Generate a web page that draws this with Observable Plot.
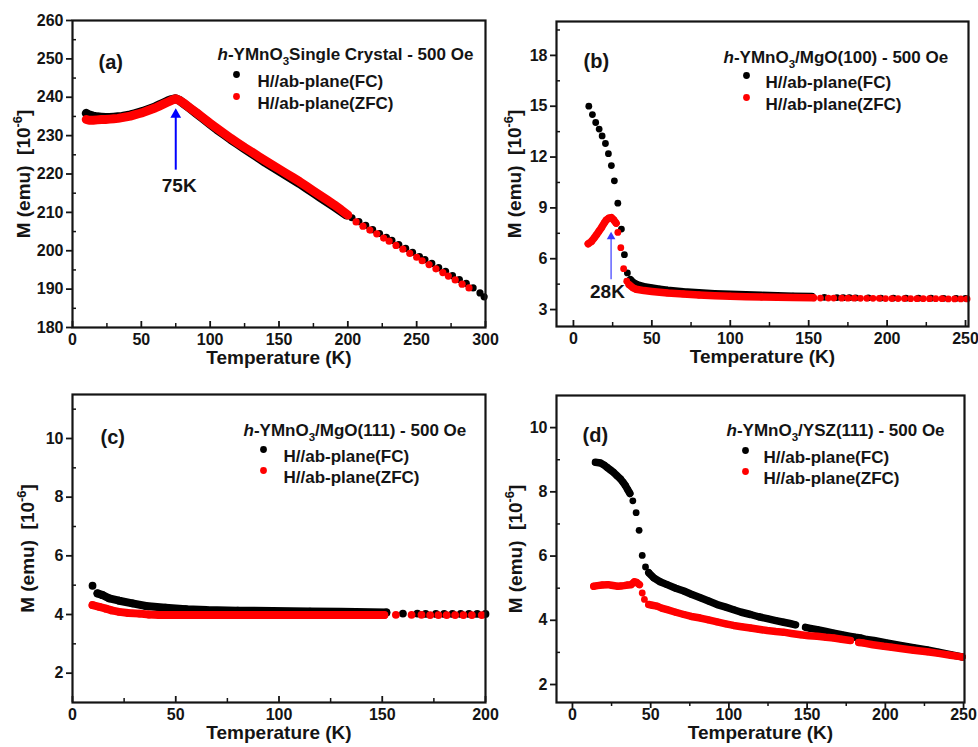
<!DOCTYPE html>
<html><head><meta charset="utf-8">
<script src="https://cdn.jsdelivr.net/npm/d3@7"></script>
<script src="https://cdn.jsdelivr.net/npm/@observablehq/plot@0.6"></script>
<style>
body{margin:0;background:#fff}
#chart{position:relative;width:978px;height:747px;overflow:hidden;background:#fff}
#chart svg{position:absolute}
</style></head><body><div id="chart"></div>
<script>
// ---------- tick labels ----------
const aXTicks=[0,50,100,150,200,250,300], aXMinor=[25,75,125,175,225,275];
const aYTicks=[180,190,200,210,220,230,240,250,260], aYMinor=[185,195,205,215,225,235,245,255];
const bXTicks=[0,50,100,150,200,250], bXMinor=[25,75,125,175,225];
const bYTicks=[3,6,9,12,15,18], bYMinor=[4.5,7.5,10.5,13.5,16.5,19.5];
const cXTicks=[0,50,100,150,200], cXMinor=[25,75,125,175];
const cYTicks=[2,4,6,8,10], cYMinor=[3,5,7,9,11];
const dXTicks=[0,50,100,150,200,250], dXMinor=[25,75,125,175,225];
const dYTicks=[2,4,6,8,10], dYMinor=[3,5,7,9];

// ---------- texts ----------
const legendLabels=["H//ab-plane(FC)","H//ab-plane(ZFC)"];
const panelLabels=["(a)","(b)","(c)","(d)"];
const panelTitles=["*h*-YMnO_3_Single Crystal - 500 Oe","*h*-YMnO_3_/MgO(100) - 500 Oe","*h*-YMnO_3_/MgO(111) - 500 Oe","*h*-YMnO_3_/YSZ(111) - 500 Oe"];
const xTitle="Temperature (K)";
const yTitle="M (emu)  [10^-6^]";

// ---------- (a) single crystal: [T (K), M (1e-6 emu)] ----------
const aFC_band=[[10,235.8],[12,235.4],[15,235.1],[18,234.9],[21,234.8],[24,234.7],[27,234.7],[30,234.8],[33,234.9],[36,235.0],[39,235.2],[42,235.4],[45,235.7],[48,236.0],[51,236.3],[54,236.7],[57,237.1],[60,237.5],[63,238.0],[66,238.5],[69,239.0],[72,239.4],[75,239.6],[78,239.1],[81,238.3],[85,237.2],[90,235.8],[95,234.4],[100,233.0],[105,231.6],[110,230.3],[115,229.0],[120,227.8],[125,226.6],[130,225.4],[135,224.2],[140,223.0],[145,221.9],[150,220.8],[155,219.7],[160,218.6],[165,217.5],[170,216.3],[175,215.1],[180,213.9],[185,212.7],[190,211.5],[195,210.3],[199,209.3]];
const aFC_pts=[[203,208.6],[208,207.6],[213,206.6],[218,205.5],[223,204.5],[228,203.5],[232,202.7],[237,201.6],[242,200.6],[247,199.6],[252,198.5],[256,197.7],[261,196.7],[266,195.6],[271,194.6],[276,193.5],[281,192.5],[286,191.5],[291,190.3],[296,189.0],[299,188.0]];
const aZFC_band=[[10,234.2],[12,234.0],[15,234.0],[18,234.1],[21,234.2],[24,234.2],[27,234.3],[30,234.4],[33,234.5],[36,234.7],[39,234.9],[42,235.1],[45,235.4],[48,235.7],[51,236.0],[54,236.4],[57,236.8],[60,237.2],[63,237.7],[66,238.2],[69,238.7],[72,239.2],[75,239.6],[78,239.1],[81,238.4],[85,237.3],[90,236.0],[95,234.6],[100,233.2],[105,231.9],[110,230.6],[115,229.3],[120,228.1],[125,226.9],[130,225.8],[135,224.6],[140,223.5],[145,222.4],[150,221.3],[155,220.2],[160,219.1],[165,218.0],[170,216.8],[175,215.6],[180,214.4],[185,213.2],[190,212.0],[195,210.7],[200,209.3]];
const aZFC_pts=[[206,207.5],[211,206.4],[216,205.4],[221,204.4],[226,203.3],[230,202.5],[235,201.4],[240,200.4],[245,199.3],[250,198.3],[254,197.4],[259,196.4],[264,195.3],[269,194.3],[273,193.4],[278,192.4],[283,191.3],[288,190.3]];

// ---------- (b) MgO(100) ----------
const bFC_pts=[[9.8,15.0],[12.1,14.51],[14.2,14.04],[16.4,13.65],[18.3,13.25],[20.4,12.8],[22.3,12.2],[24.2,11.5],[26.1,10.6],[28.3,9.28],[30.6,7.75],[32.5,6.24],[34.4,5.16],[160,3.72],[168,3.71],[172,3.7],[176,3.7],[180,3.69],[188,3.69],[196,3.68],[204,3.68],[212,3.67],[220,3.67],[228,3.67],[236,3.66],[244,3.66],[250,3.66]];
const bFC_band=[[36.3,4.76],[38,4.6],[40,4.5],[42,4.42],[45,4.35],[50,4.27],[55,4.2],[60,4.14],[70,4.05],[80,3.99],[90,3.94],[100,3.9],[110,3.87],[120,3.84],[130,3.81],[140,3.79],[152,3.77]];
const bZFC_band1=[[9.4,6.88],[11.5,7.02],[13.2,7.22],[14.7,7.41],[16.2,7.61],[17.9,7.84],[19.6,8.1],[21.0,8.29],[22.5,8.39],[24.2,8.43],[25.7,8.29],[27.2,8.1]];
const bZFC_band2=[[35.5,4.47],[38,4.28],[40,4.2],[45,4.12],[50,4.07],[60,3.98],[70,3.92],[80,3.86],[90,3.82],[100,3.79],[110,3.76],[120,3.74],[130,3.72],[140,3.71],[153,3.69]];
const bZFC_pts=[[28.3,7.55],[30.2,6.65],[32.0,5.41],[34.0,4.67],[157.5,3.68],[162.5,3.68],[166,3.68],[171,3.67],[175,3.67],[179,3.67],[183,3.66],[187,3.66],[191,3.66],[195,3.66],[199,3.65],[203,3.65],[207,3.65],[211,3.65],[215,3.64],[219,3.64],[223,3.64],[227,3.64],[231,3.64],[235,3.64],[239,3.63],[243,3.63],[247,3.63],[251,3.63]];

// ---------- (c) MgO(111) ----------
const cFC_band=[[12.1,4.72],[14.6,4.66],[17.8,4.55],[22.6,4.47],[29,4.38],[35.6,4.29],[45,4.23],[55,4.18],[65,4.15],[80,4.13],[97,4.12],[115,4.1],[130,4.09],[152,4.07]];
const cFC_pts=[[9.7,4.98],[160,4.03],[167,4.03],[171,4.02],[176,4.02],[180,4.02],[184,4.02],[188,4.02],[192,4.02],[196,4.02],[200,4.02]];
const cZFC_band=[[9.7,4.32],[13,4.26],[16.2,4.2],[19,4.14],[22.6,4.09],[27,4.05],[32.4,4.03],[37,4.0],[42,3.98],[50,3.98],[60,3.98],[80,3.98],[100,3.98],[120,3.98],[140,3.98],[151,3.98]];
const cZFC_pts=[[156.6,3.99],[164.2,3.99],[169,3.99],[173.2,3.98],[177.2,3.98],[181.2,3.98],[185.3,3.98],[189.3,3.98],[193.4,3.98],[198.2,3.98]];

// ---------- (d) YSZ(111) ----------
const dFC_band1=[[14.7,8.92],[17.9,8.9],[20,8.84],[22.2,8.76],[24.3,8.68],[26.4,8.6],[28.5,8.5],[30.7,8.4],[32.3,8.3],[33.9,8.19],[35.3,8.07],[36.7,7.95]];
const dFC_band2=[[48.8,5.48],[52,5.32],[56,5.2],[60.5,5.11],[66,5.0],[71.2,4.91],[76,4.81],[81.8,4.7],[87,4.6],[92.5,4.49],[98,4.41],[103,4.33],[108,4.25],[113.8,4.18],[119,4.11],[124.5,4.05],[130,3.99],[135,3.94],[139,3.9],[142.6,3.86]];
const dFC_band3=[[149,3.78],[152,3.75],[156.5,3.71],[162,3.65],[167,3.6],[172,3.55],[177.7,3.5],[181,3.47],[184,3.45],[188,3.4],[192.7,3.37],[200,3.3],[209.7,3.22],[218,3.15],[226.8,3.08],[234,3.01],[241.7,2.93],[249,2.86]];
const dFC_pts=[[38.6,7.72],[40.7,7.35],[42.6,6.8],[44.6,6.02],[46.7,5.66]];
const dZFC_band1=[[13.6,5.06],[16,5.08],[19,5.1],[22.6,5.11],[25,5.09],[28.9,5.06],[31,5.07],[33,5.08],[35.3,5.1],[37.5,5.11],[39.6,5.2],[41,5.18],[42.8,5.11]];
const dZFC_band2=[[48.8,4.49],[51,4.47],[54.1,4.44],[57,4.38],[60.5,4.33],[66,4.25],[71.2,4.18],[76,4.12],[81.8,4.07],[87,4.01],[92.5,3.95],[98,3.89],[103,3.84],[108,3.8],[113.8,3.76],[119,3.72],[124.5,3.68],[130,3.65],[135,3.63],[140,3.59],[145.8,3.55],[151,3.52],[156.5,3.5],[162,3.47],[167,3.45],[172,3.41],[177.7,3.37]];
const dZFC_band3=[[183,3.31],[186.3,3.29],[192,3.24],[199,3.19],[204,3.16],[209.7,3.12],[218,3.07],[226.8,3.02],[234,2.97],[241.7,2.91],[249,2.86]];
const dZFC_pts=[[44.6,4.85],[46,4.65]];

// ---------- annotations (arrows at transition temperatures) ----------
const arrowA={T:75, from:221, to:235.5, label:"75K", lT:77.5, lM:217};
const arrowB={T:24, from:4.76, to:7.3, label:"28K", lT:21.7, lM:4.06};

const BLACK="#000000", RED="#ff0000", INK="#141414";
const FONT="'Liberation Sans', Arial, Helvetica, sans-serif";

const panels=[
 {left:0,top:0,width:489,height:373,m:[20,4,46,72],xd:[0,300],yd:[180,260],xt:aXTicks,xm:aXMinor,yt:aYTicks,ym:aYMinor,xIn:true,r:3.6,band:9,
  series:[{color:BLACK,bands:[aFC_band],pts:aFC_pts},{color:RED,bands:[aZFC_band],pts:aZFC_pts}],
  arrow:arrowA, arrowColor:"#0000ff", arrowW:2,
  lab:[26,34], ttl:[145,27], leg:[164,54,76,185], ytx:-49},
 {left:489,top:0,width:489,height:373,m:[21,10,47,67],xd:[-10.8,251.9],yd:[2,20],xt:bXTicks,xm:bXMinor,yt:bYTicks,ym:bYMinor,xIn:true,r:3.4,band:7.5,
  series:[{color:BLACK,bands:[bFC_band],pts:bFC_pts},{color:RED,bands:[bZFC_band1,bZFC_band2],pts:bZFC_pts}],
  arrow:arrowB, arrowColor:"#3a3aff", arrowW:1.2,
  lab:[27,32], ttl:[167,29], leg:[190,54,76,209], ytx:-42},
 {left:0,top:373,width:489,height:374,m:[21,4,45,72],xd:[0,200],yd:[1,11.5],xt:cXTicks,xm:cXMinor,yt:cYTicks,ym:cYMinor,xIn:true,r:3.9,band:8,
  series:[{color:BLACK,bands:[cFC_band],pts:cFC_pts},{color:RED,bands:[cZFC_band],pts:cZFC_pts}],
  lab:[28,35], ttl:[171,29], leg:[191,55,76,211], ytx:-45},
 {left:489,top:373,width:489,height:374,m:[22,14,45,67],xd:[-10.2,250.6],yd:[1.44,11],xt:dXTicks,xm:dXMinor,yt:dYTicks,ym:dYMinor,xIn:false,r:3.4,band:7.5,
  series:[{color:BLACK,bands:[dFC_band1,dFC_band2,dFC_band3],pts:dFC_pts},{color:RED,bands:[dZFC_band1,dZFC_band2,dZFC_band3],pts:dZFC_pts}],
  lab:[26,32], ttl:[170,28], leg:[189,55,76,207], ytx:-41}
];

function seriesMarks(s,r,bw){
  const out=[];
  for(const b of s.bands) out.push(Plot.line(b,{x:d=>d[0],y:d=>d[1],stroke:s.color,strokeWidth:bw,strokeLinecap:"round",strokeLinejoin:"round"}));
  const all=[...s.bands.flat(),...s.pts];
  out.push(Plot.dot(all,{x:d=>d[0],y:d=>d[1],r,fill:s.color,stroke:"none"}));
  return out;
}

function richify(svg){
  svg.querySelectorAll("text").forEach(t=>{
    const s=t.textContent;
    if(!/[*_^]/.test(s)) return;
    const fs=parseFloat(getComputedStyle(t).fontSize)||16;
    const parts=s.split(/(\*[^*]+\*|_[^_]+_|\^[^^]+\^)/).filter(x=>x);
    while(t.firstChild) t.removeChild(t.firstChild);
    let shift=0;
    for(const p of parts){
      const ts=document.createElementNS("http://www.w3.org/2000/svg","tspan");
      let txt=p, want=0;
      if(p[0]==="*"){txt=p.slice(1,-1);ts.setAttribute("font-style","italic");}
      else if(p[0]==="_"){txt=p.slice(1,-1);want=0.3*fs;ts.setAttribute("font-size",(0.68*fs)+"px");}
      else if(p[0]==="^"){txt=p.slice(1,-1);want=-0.42*fs;ts.setAttribute("font-size",(0.68*fs)+"px");}
      const dy=want-shift;
      if(dy!==0) ts.setAttribute("dy",dy);
      shift=want;
      ts.textContent=txt;
      t.appendChild(ts);
    }
  });
}

const root=document.getElementById("chart");
panels.forEach((p,i)=>{
  const tickIn=p.xIn?-6:6, minorIn=p.xIn?-4:4;
  const marks=[
    ...p.series.flatMap(s=>seriesMarks(s,p.r,p.band)),
    Plot.frame({stroke:INK,strokeWidth:2.2}),
    Plot.axisY({ticks:p.yt,tickSize:6,tickPadding:3,stroke:INK,strokeWidth:1.8,fill:INK,fontSize:16,label:null}),
    Plot.axisY({ticks:p.ym,tickSize:-4,stroke:INK,strokeWidth:1.5,fill:"none",label:null}),
    Plot.axisX({ticks:p.xt,tickSize:0,tickPadding:6,fill:INK,fontSize:16,label:null}),
    Plot.axisX({ticks:p.xt,tickSize:tickIn,stroke:INK,strokeWidth:1.8,fill:"none",label:null}),
    Plot.axisX({ticks:p.xm,tickSize:minorIn,stroke:INK,strokeWidth:1.5,fill:"none",label:null}),
    Plot.text([panelLabels[i]],{text:d=>d,frameAnchor:"top-left",dx:p.lab[0],dy:p.lab[1],textAnchor:"start",fontSize:20,fontWeight:"bold",fill:INK}),
    Plot.text([panelTitles[i]],{text:d=>d,frameAnchor:"top-left",dx:p.ttl[0],dy:p.ttl[1],textAnchor:"start",fontSize:17,fontWeight:"bold",fill:INK}),
    Plot.dot([0],{frameAnchor:"top-left",dx:p.leg[0],dy:p.leg[1],r:3.4,fill:BLACK}),
    Plot.dot([0],{frameAnchor:"top-left",dx:p.leg[0],dy:p.leg[2],r:3.4,fill:RED}),
    Plot.text([legendLabels[0]],{text:d=>d,frameAnchor:"top-left",dx:p.leg[3],dy:p.leg[1],textAnchor:"start",fontSize:17,fontWeight:"bold",fill:INK}),
    Plot.text([legendLabels[1]],{text:d=>d,frameAnchor:"top-left",dx:p.leg[3],dy:p.leg[2],textAnchor:"start",fontSize:17,fontWeight:"bold",fill:INK}),
    Plot.text([xTitle],{text:d=>d,frameAnchor:"bottom",dy:36,fontSize:19,fontWeight:"bold",fill:INK}),
    Plot.text([yTitle],{text:d=>d,frameAnchor:"left",dx:p.ytx,rotate:-90,textAnchor:"middle",fontSize:19,fontWeight:"bold",fill:INK})
  ];
  if(p.arrow){
    const a=p.arrow;
    marks.push(
      Plot.ruleX([a],{x:"T",y1:"from",y2:"to",stroke:p.arrowColor,strokeWidth:p.arrowW}),
      Plot.dot([a],{x:"T",y:"to",symbol:"triangle",r:p.arrowW>1.5?4:3.2,fill:p.arrowColor,stroke:"none"}),
      Plot.text([a],{x:"lT",y:"lM",text:"label",fontSize:19,fontWeight:"bold",fill:INK})
    );
  }
  const svg=Plot.plot({
    width:p.width,height:p.height,
    marginTop:p.m[0],marginRight:p.m[1],marginBottom:p.m[2],marginLeft:p.m[3],
    x:{domain:p.xd,label:null},
    y:{domain:p.yd,label:null},
    style:{fontFamily:FONT,fontSize:"16px",fontWeight:"bold",color:INK,background:"transparent",overflow:"visible"},
    marks
  });
  svg.style.left=p.left+"px";
  svg.style.top=p.top+"px";
  root.appendChild(svg);
  richify(svg);
});
</script>
</body></html>
